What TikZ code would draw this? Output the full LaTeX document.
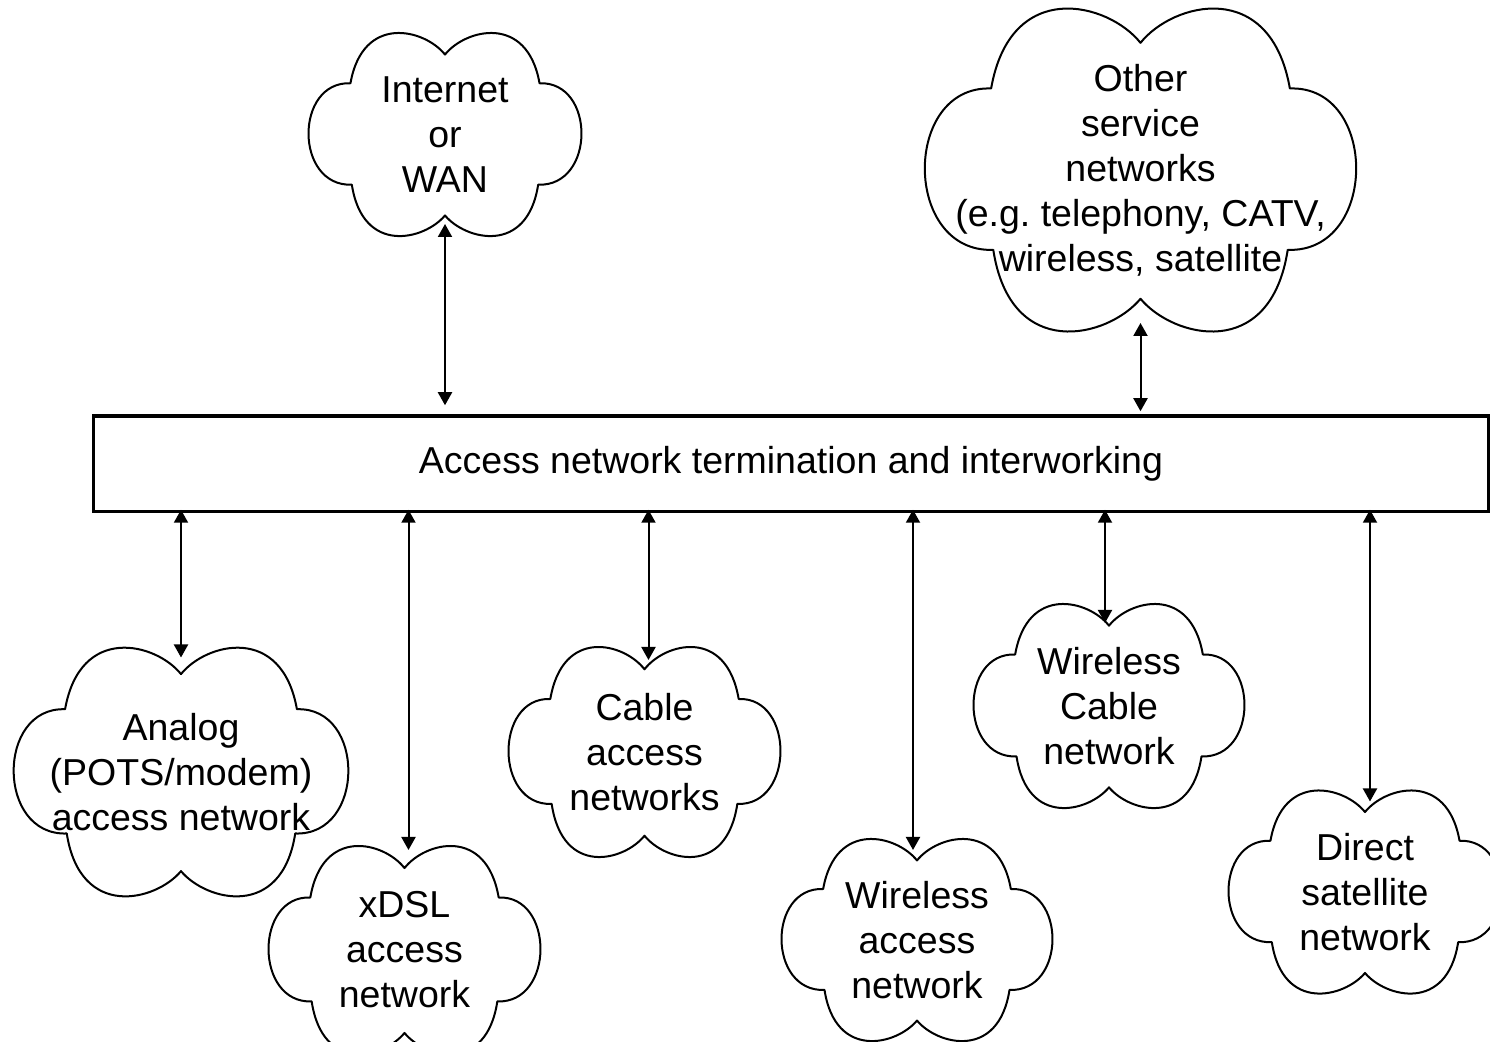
\documentclass[tikz,border=0pt]{standalone}
\usepackage{fontspec}
\setmainfont{Liberation Sans}
\usetikzlibrary{calc,arrows.meta}
\frenchspacing

\begin{document}
\begin{tikzpicture}[x=0.1mm,y=-0.1mm,
    font=\fontsize{10.67}{12.8}\selectfont,
    net/.style={rectangle, align=center, inner sep=0pt, outer sep=0pt},
    puffs/.style={line width=0.2mm, line join=round},
    link/.style={{Triangle[length=1.3mm,width=1.4mm]}-{Triangle[length=1.3mm,width=1.4mm]},
        line width=0.2mm}]
    \useasboundingbox (0,0) rectangle (1490,1042);

    \node [draw, line width=0.35mm, outer sep=0pt, minimum width=139.5mm, minimum height=9.55mm]
        (term) at (791,464) {Access network termination and interworking};

    \node [net, minimum width=27.4mm, minimum height=20.5mm] (inet) at (445,134.5) {Internet\\or\\WAN};
    \node [net, minimum width=43.3mm, minimum height=32.6mm] (other) at (1140.5,170)
        {Other\\service\\networks\\(e.g. telephony, CATV,\\wireless, satellite};

    \node [net, minimum width=33.6mm, minimum height=25.1mm] (analog) at (181,772) {Analog\\(POTS/modem)\\access network};
    \node [net, minimum width=27.3mm, minimum height=21mm] (xdsl) at (404.5,950) {xDSL\\access\\network};
    \node [net, minimum width=27.3mm, minimum height=21.2mm] (cable) at (644.5,752) {Cable\\access\\networks};
    \node [net, minimum width=27.2mm, minimum height=20.4mm] (wlacc) at (917,940) {Wireless\\access\\network};
    \node [net, minimum width=27.2mm, minimum height=20.6mm] (wlcable) at (1109,706) {Wireless\\Cable\\network};
    \node [net, minimum width=27.4mm, minimum height=20.5mm] (direct) at (1365,892) {Direct\\satellite\\network};

    \foreach \n in {inet,other,analog,xdsl,cable,wlacc,wlcable,direct}
        \draw [puffs, x={($(\n.east)-(\n.center)$)}, y={($(\n.south)-(\n.center)$)}, shift={(\n.center)}]
            (0,-0.78) .. controls (-0.15,-1.03) and (-0.6,-1.18) .. (-0.69,-0.5)
            .. controls (-1.1,-0.52) and (-1.1,0.51) .. (-0.68,0.49)
            .. controls (-0.6,1.18) and (-0.15,1.03) .. (0,0.79)
            .. controls (0.15,1.03) and (0.6,1.18) .. (0.68,0.49)
            .. controls (1.1,0.51) and (1.1,-0.52) .. (0.69,-0.5)
            .. controls (0.6,-1.18) and (0.15,-1.03) .. cycle;

    \draw [link, shorten <=-1.3mm, shorten >=1.1mm] (inet.south) -- (inet.south |- term.north);
    \draw [link, shorten <=-1mm, shorten >=0.5mm] (other.south) -- (other.south |- term.north);
    \foreach \n/\s/\d in {analog/1.1/0, xdsl/0.5/0.4, cable/1.4/0.4, wlacc/1.2/-0.4, wlcable/2/-0.4, direct/1.2/0.5}
        \draw [link, shorten <=-\s mm, shorten >=-0.2mm]
            ([xshift=\d mm]\n.north) -- ([xshift=\d mm]\n.north |- term.south);
\end{tikzpicture}
\end{document}
